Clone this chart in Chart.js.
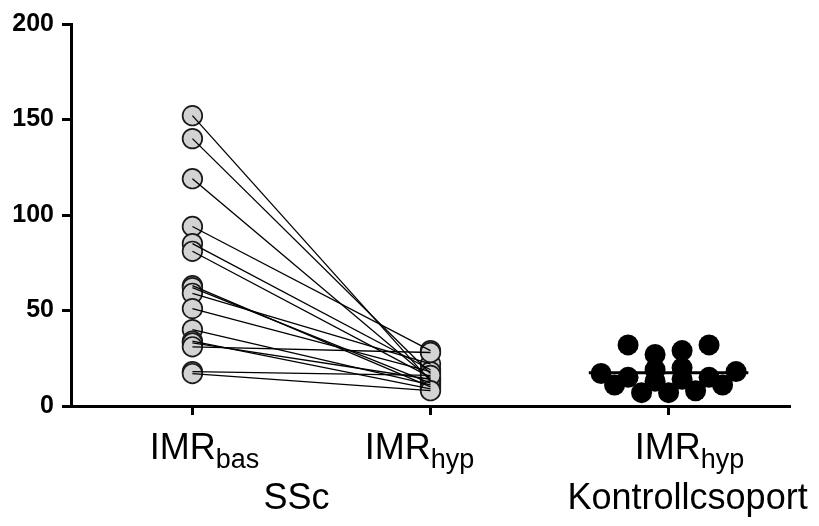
<!DOCTYPE html>
<html>
<head>
<meta charset="utf-8">
<script src="https://cdn.jsdelivr.net/npm/chart.js@4.4.0/dist/chart.umd.min.js"></script>
<style>
  html, body { margin: 0; padding: 0; background: #fff; }
</style>
</head>
<body>
<canvas id="chart" width="819" height="526"></canvas>
<script>
// data
const tickLabels = [['IMR', 'bas'], ['IMR', 'hyp'], ['IMR', 'hyp']];
const groupLabels = ['SSc', 'Kontrollcsoport'];
const sscBas = [152, 140, 119, 94, 85, 81, 63, 62, 59, 51, 40, 34, 33, 31, 18, 17];
const sscHyp = [13, 17, 14, 29, 19, 15, 10, 12, 22, 18, 11, 9, 14, 28, 16, 8];
const controlHyp = [32, 29, 27, 32, 20, 15, 18, 17, 19, 15, 14, 13, 11, 8, 7, 7, 11];
const yTicks = [0, 50, 100, 150, 200];

Chart.defaults.font.family = '"Liberation Sans", Arial, sans-serif';
Chart.defaults.color = '#000';

const controlMean = controlHyp.reduce((a, b) => a + b, 0) / controlHyp.length;

// one line per SSc patient (bas -> hyp)
const pairLines = sscBas.map((b, i) => ({
  data: [{ x: 1, y: b }, { x: 2, y: sscHyp[i] }],
  showLine: true,
  borderColor: '#000',
  borderWidth: 1.3,
  pointRadius: 0
}));

const meanLine = {
  data: [{ x: 3 - 0.335, y: controlMean }, { x: 3 + 0.335, y: controlMean }],
  showLine: true,
  borderColor: '#000',
  borderWidth: 3,
  pointRadius: 0
};

const sscPoints = {
  data: sscBas.map(v => ({ x: 1, y: v })).concat(sscHyp.map(v => ({ x: 2, y: v }))),
  pointRadius: 9.8,
  pointBackgroundColor: '#d3d3d3',
  pointBorderColor: '#1a1a1a',
  pointBorderWidth: 1.7
};

const controlPoints = {
  data: controlHyp.map(v => ({ x: 3, y: v })),
  pointRadius: 10.5,
  pointBackgroundColor: '#000',
  pointBorderColor: '#000',
  pointBorderWidth: 0
};

// draws IMR with subscript and group names under the axis
const xLabelPlugin = {
  id: 'xLabels',
  afterDraw(chart) {
    const ctx = chart.ctx;
    const xs = chart.scales.x;
    const shift = [12, -11, 21];
    const big = '36px "Liberation Sans", Arial, sans-serif';
    const small = '27px "Liberation Sans", Arial, sans-serif';
    ctx.save();
    ctx.fillStyle = '#000';
    ctx.textBaseline = 'alphabetic';
    ctx.textAlign = 'left';
    tickLabels.forEach((lab, i) => {
      const cx = xs.getPixelForValue(i + 1) + shift[i];
      ctx.font = big;
      const w1 = ctx.measureText(lab[0]).width;
      ctx.font = small;
      const w2 = ctx.measureText(lab[1]).width;
      const x0 = cx - (w1 + w2) / 2;
      ctx.font = big;
      ctx.fillText(lab[0], x0, 459);
      ctx.font = small;
      ctx.fillText(lab[1], x0 + w1, 468);
    });
    ctx.font = big;
    ctx.textAlign = 'center';
    ctx.fillText(groupLabels[0], (xs.getPixelForValue(1) + xs.getPixelForValue(2)) / 2 - 15, 509);
    ctx.fillText(groupLabels[1], xs.getPixelForValue(3) + 19, 509);
    ctx.restore();
  }
};

const axisStyle = {
  grid: { display: true, drawOnChartArea: false, drawTicks: true, tickLength: 9, tickWidth: 3, tickColor: '#000' },
  border: { display: true, color: '#000', width: 3 }
};

const chart = new Chart(document.getElementById('chart'), {
  type: 'scatter',
  data: { datasets: [...pairLines, meanLine, sscPoints, controlPoints] },
  options: {
    responsive: false,
    animation: false,
    layout: { padding: { top: 24, right: 29, left: 0, bottom: 0 } },
    plugins: { legend: { display: false }, tooltip: { enabled: false } },
    scales: {
      x: {
        type: 'linear',
        min: 0.49,
        max: 3.51,
        afterBuildTicks: s => { s.ticks = [1, 2, 3].map(v => ({ value: v })); },
        ticks: { display: false },
        afterFit: s => { s.height = 120; },
        ...axisStyle
      },
      y: {
        min: 0,
        max: 200,
        afterBuildTicks: s => { s.ticks = yTicks.map(v => ({ value: v })); },
        ticks: { font: { size: 25, weight: 'bold' }, color: '#000', padding: 8 },
        afterFit: s => { s.width = 71; },
        ...axisStyle
      }
    }
  },
  plugins: [xLabelPlugin]
});

// spread the control points sideways in rows (GraphPad-style scatter)
function spreadControl() {
  const xs = chart.scales.x, ys = chart.scales.y;
  const cx = xs.getPixelForValue(3);
  const rowH = 10, spacing = 27;
  const idx = controlHyp.map((v, i) => i).sort((a, b) => controlHyp[a] - controlHyp[b]);
  const rows = [];
  idx.forEach(i => {
    const py = ys.getPixelForValue(controlHyp[i]);
    const row = rows[rows.length - 1];
    if (row && row.start - py <= rowH) row.items.push(i);
    else rows.push({ start: py, items: [i] });
  });
  const out = new Array(controlHyp.length);
  rows.forEach(row => {
    const n = row.items.length;
    const slots = [];
    for (let j = 0; j < n; j++) slots.push((j - (n - 1) / 2) * spacing);
    slots.sort((a, b) => Math.abs(a) - Math.abs(b) || a - b);
    row.items.forEach((i, j) => {
      out[i] = { x: xs.getValueForPixel(cx + slots[j]), y: controlHyp[i] };
    });
  });
  chart.data.datasets[chart.data.datasets.length - 1].data = out;
  chart.update('none');
}
spreadControl();
</script>
</body>
</html>
